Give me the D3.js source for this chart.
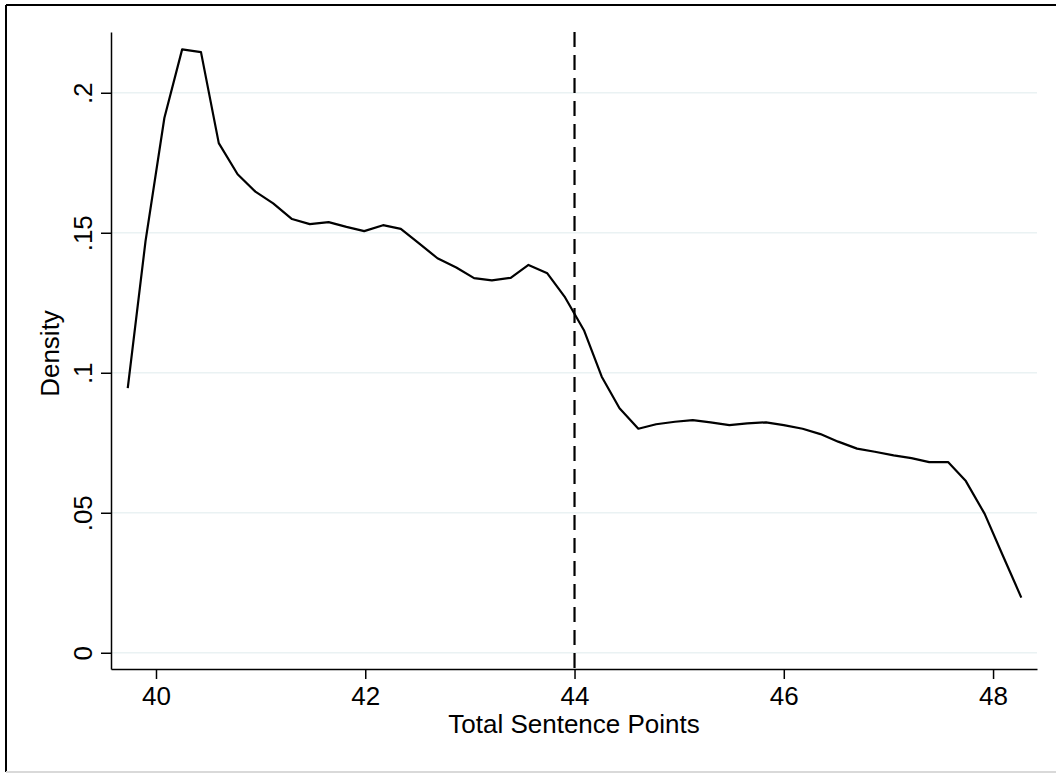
<!DOCTYPE html>
<html>
<head>
<meta charset="utf-8">
<script src="https://cdn.jsdelivr.net/npm/d3@7"></script>
<style>
  body { margin: 0; background: #fff; }
  text { font-family: "Liberation Sans", Arial, Helvetica, sans-serif; fill: #000; }
</style>
</head>
<body>
<div id="chart"></div>
<script>

// kernel density
let points = [39.73, 39.90, 40.08, 40.25, 40.43, 40.60, 40.78, 40.95, 41.12, 41.30,
	41.47, 41.65, 41.82, 41.99, 42.17, 42.34, 42.52, 42.69, 42.87, 43.04,
	43.21, 43.39, 43.56, 43.74, 43.91, 44.09, 44.26, 44.43, 44.61, 44.78,
	44.96, 45.13, 45.30, 45.48, 45.65, 45.83, 46.00, 46.18, 46.35, 46.52,
	46.70, 46.87, 47.05, 47.22, 47.39, 47.57, 47.74, 47.92, 48.09, 48.27];
let density = [0.0945, 0.147, 0.191, 0.2155, 0.2145, 0.182, 0.1709, 0.1647, 0.1605, 0.1549,
	0.1531, 0.1538, 0.1521, 0.1506, 0.1527, 0.1514, 0.146, 0.1409, 0.1376, 0.1338,
	0.133, 0.1339, 0.1385, 0.1355, 0.1269, 0.1152, 0.0986, 0.0873, 0.0800, 0.0816,
	0.0825, 0.0831, 0.0823, 0.0813, 0.0819, 0.0823, 0.0813, 0.0800, 0.0781, 0.0754,
	0.0729, 0.0718, 0.0705, 0.0695, 0.0681, 0.0681, 0.0613, 0.0496, 0.035, 0.0197];

let xTicks = [40, 42, 44, 46, 48];
let yTicks = [0, 0.05, 0.1, 0.15, 0.2];
let yTickLabels = ["0", ".05", ".1", ".15", ".2"];
let cutoff = 44;

let width = 1056, height = 774;
let plot = { left: 111, right: 1037, top: 32, bottom: 669 };
let fontSize = "26px";

let svg = d3.select("#chart")
	.append("svg")
	.attr("width", width)
	.attr("height", height);

svg.append("rect").attr("width", width).attr("height", height).attr("fill", "#fff");

// outer frame (right edge is cut off in the original)
svg.append("line").attr("x1", 6).attr("x2", width).attr("y1", 5).attr("y2", 5)
	.attr("stroke", "#000").attr("stroke-width", 2);
svg.append("line").attr("x1", 6).attr("x2", 6).attr("y1", 5).attr("y2", 772)
	.attr("stroke", "#000").attr("stroke-width", 2);
svg.append("line").attr("x1", 6).attr("x2", width).attr("y1", 772).attr("y2", 772)
	.attr("stroke", "#d9d9d9").attr("stroke-width", 2);

let x = d3.scaleLinear()
	.domain([39.57, 48.42])
	.range([plot.left, plot.right]);

let y = d3.scaleLinear()
	.domain([-0.0058, 0.2217])
	.range([plot.bottom, plot.top]);

// gridlines
svg.append("g")
	.selectAll("line")
	.data(yTicks)
	.enter()
	.append("line")
	.attr("x1", plot.left)
	.attr("x2", plot.right)
	.attr("y1", d => y(d))
	.attr("y2", d => y(d))
	.attr("stroke", "#eaf2f3")
	.attr("stroke-width", 1.5);

// x axis
let xAxis = svg.append("g")
	.attr("transform", "translate(0," + plot.bottom + ")")
	.call(d3.axisBottom(x).tickValues(xTicks).tickSize(10).tickSizeOuter(0));
xAxis.select(".domain").attr("stroke-width", 1.5);
xAxis.selectAll(".tick line").attr("stroke-width", 1.5);
xAxis.selectAll("text")
	.attr("y", 36)
	.attr("dy", 0)
	.style("font-size", fontSize)
	.style("font-family", "Liberation Sans, Arial, sans-serif");

// y axis, labels turned like Stata does
let yAxis = svg.append("g")
	.attr("transform", "translate(" + plot.left + ",0)")
	.call(d3.axisLeft(y).tickValues(yTicks).tickSize(10).tickSizeOuter(0)
		.tickFormat((d, i) => yTickLabels[i]));
yAxis.select(".domain").attr("stroke-width", 1.5);
yAxis.selectAll(".tick line").attr("stroke-width", 1.5);
yAxis.selectAll("text")
	.attr("x", 0)
	.attr("y", -19)
	.attr("dy", 0)
	.attr("transform", "rotate(-90)")
	.attr("text-anchor", "middle")
	.style("font-size", fontSize)
	.style("font-family", "Liberation Sans, Arial, sans-serif");

// density curve
let line = d3.line()
	.x((d, i) => x(points[i]))
	.y(d => y(d));

svg.append("path")
	.datum(density)
	.attr("d", line)
	.attr("fill", "none")
	.attr("stroke", "#000")
	.attr("stroke-width", 2.2)
	.attr("stroke-linejoin", "round");

// cutoff line
svg.append("line")
	.attr("x1", x(cutoff))
	.attr("x2", x(cutoff))
	.attr("y1", plot.top)
	.attr("y2", plot.bottom)
	.attr("stroke", "#000")
	.attr("stroke-width", 2.2)
	.attr("stroke-dasharray", "15,8");

// titles
svg.append("text")
	.attr("x", (plot.left + plot.right) / 2)
	.attr("y", 733)
	.attr("text-anchor", "middle")
	.style("font-size", fontSize)
	.text("Total Sentence Points");

svg.append("text")
	.attr("transform", "translate(59," + ((plot.top + plot.bottom) / 2 + 3) + ") rotate(-90)")
	.attr("text-anchor", "middle")
	.style("font-size", fontSize)
	.text("Density");

</script>
</body>
</html>
